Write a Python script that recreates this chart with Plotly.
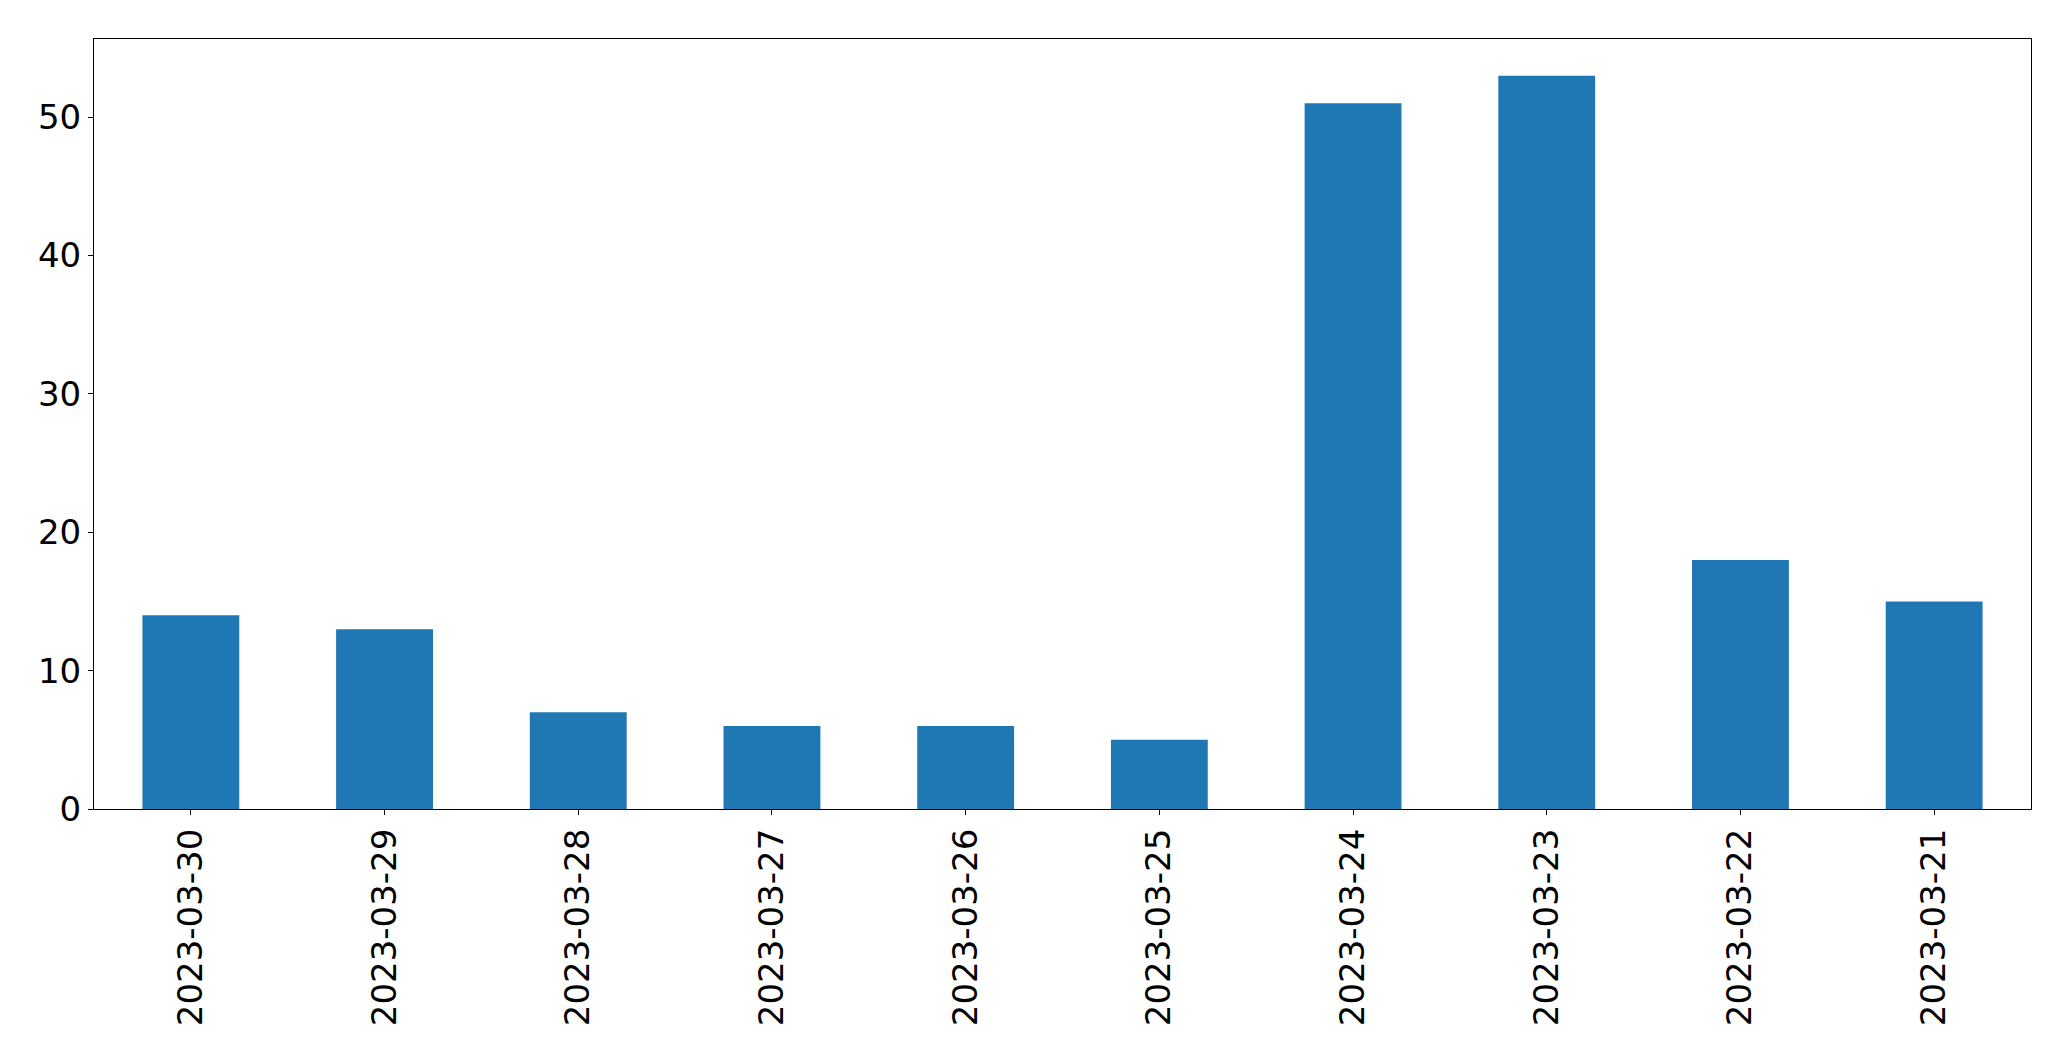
import plotly.graph_objects as go

dates = ["2023-03-30", "2023-03-29", "2023-03-28", "2023-03-27", "2023-03-26",
         "2023-03-25", "2023-03-24", "2023-03-23", "2023-03-22", "2023-03-21"]
counts = [14, 13, 7, 6, 6, 5, 51, 53, 18, 15]
y_ticks = [0, 10, 20, 30, 40, 50]

fig = go.Figure(go.Bar(x=dates, y=counts, marker=dict(color="#1f77b4", line=dict(width=0)),
                       width=0.5))

axis_common = dict(showline=True, linecolor="black", linewidth=1.1, mirror=True,
                   ticks="outside", ticklen=5, tickwidth=1.1, tickcolor="black",
                   showgrid=False, zeroline=False,
                   tickfont=dict(family="DejaVu Sans", size=34, color="black"))

fig.update_layout(
    width=2063, height=1053,
    margin=dict(l=86, r=40, t=31, b=252, autoexpand=False),
    paper_bgcolor="white", plot_bgcolor="white",
    showlegend=False,
    xaxis=dict(type="category", range=[-0.5, 9.5], tickangle=-90, **axis_common),
    yaxis=dict(range=[0, 55.65], tickmode="array", tickvals=y_ticks,
               ticktext=[str(v) for v in y_ticks], **axis_common),
)

fig.write_html("out.html")
